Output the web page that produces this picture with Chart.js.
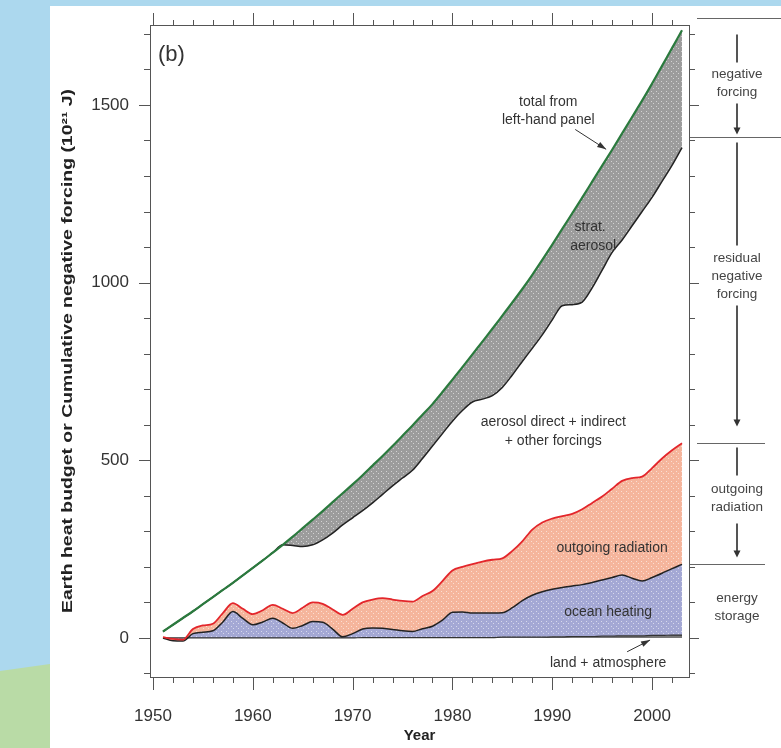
<!DOCTYPE html>
<html>
<head>
<meta charset="utf-8">
<script src="https://cdn.jsdelivr.net/npm/chart.js@4.4.1/dist/chart.umd.min.js"></script>
<style>
html, body { margin: 0; padding: 0; }
body { width: 781px; height: 748px; background: #acd8ee; position: relative; overflow: hidden; }
#grass { position: absolute; left: 0; top: 0; width: 781px; height: 748px; background: #b9dba6;
  clip-path: polygon(0 671px, 50px 664px, 50px 748px, 0 748px); }
#panel { position: absolute; left: 50px; top: 6px; right: 0; bottom: 0; background: #fff; }
#wrap { position: absolute; left: 0; top: 0; width: 781px; height: 748px; }
</style>
</head>
<body>
<div id="grass"></div>
<div id="panel"></div>
<div id="wrap"><canvas id="heat-chart" width="781" height="748"></canvas></div>
<script>
// years of the record
const years = [
  1951, 1952, 1953, 1954, 1955, 1956, 1957, 1958, 1959, 1960,
  1961, 1962, 1963, 1964, 1965, 1966, 1967, 1968, 1969, 1970,
  1971, 1972, 1973, 1974, 1975, 1976, 1977, 1978, 1979, 1980,
  1981, 1982, 1983, 1984, 1985, 1986, 1987, 1988, 1989, 1990,
  1991, 1992, 1993, 1994, 1995, 1996, 1997, 1998, 1999, 2000,
  2001, 2002, 2003
];

// total from left-hand panel (green line)
const totalForcing = [
  18, 37, 56, 75, 95, 115, 135, 155, 176, 197,
  218, 240, 262, 285, 309, 333, 357, 382, 407, 432,
  458, 485, 512, 540, 569, 598, 628, 658, 692, 727,
  762, 798, 834, 870, 907, 944, 982, 1022, 1064, 1107,
  1151, 1195, 1239, 1284, 1329, 1374, 1420, 1466, 1512, 1560,
  1610, 1660, 1710
];

// after strat. aerosol (black line under the grey band)
const residualForcing = [
  18, 37, 56, 75, 95, 115, 135, 155, 176, 197,
  218, 240, 262, 260, 257, 262, 276, 295, 318, 338,
  358, 380, 404, 428, 450, 472, 505, 540, 575, 610,
  640, 664, 672, 682, 705, 740, 778, 815, 853, 895,
  935, 938, 945, 985, 1035, 1085, 1120, 1160, 1200, 1240,
  1285, 1330, 1380
];

// top of outgoing radiation (red line)
const outgoingTop = [
  2, -3, -5, 25, 35, 40, 70, 98, 82, 67,
  78, 93, 82, 70, 85, 100, 96, 80, 65, 82,
  100, 108, 112, 108, 104, 102, 118, 132, 160, 190,
  200, 208, 215, 220, 224, 245, 272, 305, 325, 336,
  343, 349, 362, 380, 398, 420, 442, 450, 454, 478,
  505, 528, 548
];

// top of ocean heating
const oceanTop = [
  0, -8, -9, 12, 16, 20, 45, 74, 55, 37,
  45, 55, 42, 27, 35, 46, 44, 25, 3, 12,
  25, 28, 27, 24, 20, 18, 26, 33, 50, 72,
  73, 70, 70, 70, 71, 85, 105, 120, 130, 137,
  142, 146, 150, 156, 163, 170, 177, 168, 160, 170,
  182, 195, 207
];

// land + atmosphere
const landTop = [
  0, 0, 0, 0, 0, 0, 0, 0, 0, 0,
  0, 0, 0, 0, 0, 0, 0, 0, 0, 0,
  1, 1, 1, 1, 1, 1, 1, 1, 1, 1,
  1, 1, 1, 1, 2, 2, 2, 2, 2, 3,
  3, 4, 4, 4, 5, 5, 6, 6, 6, 7,
  7, 8, 8
];

const yearTicks = [1950, 1960, 1970, 1980, 1990, 2000];
const valueTicks = [0, 500, 1000, 1500];
const yTitle = 'Earth heat budget or Cumulative negative forcing (10²¹ J)';

// boundaries of the right-hand brackets (10^21 J)
const bracketLevels = [1745, 1410, 548, 207];

// text notes inside the plot, placed in data units
const notes = [
  { text: '(b)', x: 1950.5, y: 1640, size: 22, align: 'left' },
  { text: 'total from', x: 1989.6, y: 1507 },
  { text: 'left-hand panel', x: 1989.6, y: 1456 },
  { text: 'strat.', x: 1993.8, y: 1155 },
  { text: 'aerosol', x: 1994.1, y: 1104 },
  { text: 'aerosol direct + indirect', x: 1990.1, y: 606 },
  { text: '+ other forcings', x: 1990.1, y: 555 },
  { text: 'outgoing radiation', x: 1996.0, y: 254 },
  { text: 'ocean heating', x: 1995.6, y: 73 },
  { text: 'land + atmosphere', x: 1995.6, y: -70 }
];
const noteArrows = [
  { from: [1992.3, 1431], to: [1995.4, 1375] },
  { from: [1997.5, -39], to: [1999.8, -6] }
];

const FONT = '"Liberation Sans", Arial, Helvetica, sans-serif';

function stipple(base) {
  const c = document.createElement('canvas');
  c.width = 5; c.height = 5;
  const g = c.getContext('2d');
  g.fillStyle = base;
  g.fillRect(0, 0, 5, 5);
  g.fillStyle = 'rgba(255,255,255,0.55)';
  g.fillRect(1, 1, 1, 1);
  g.fillRect(3, 3, 1, 1);
  return g.createPattern(c, 'repeat');
}

const pts = arr => years.map((yr, i) => ({ x: yr, y: arr[i] }));

function arrowHead(ctx, x1, y1, x2, y2, len, half) {
  const ang = Math.atan2(y2 - y1, x2 - x1);
  ctx.beginPath();
  ctx.moveTo(x2, y2);
  ctx.lineTo(x2 - len * Math.cos(ang) + half * Math.sin(ang), y2 - len * Math.sin(ang) - half * Math.cos(ang));
  ctx.lineTo(x2 - len * Math.cos(ang) - half * Math.sin(ang), y2 - len * Math.sin(ang) + half * Math.cos(ang));
  ctx.closePath();
  ctx.fill();
}

function segment(ctx, x1, y1, x2, y2) {
  ctx.beginPath();
  ctx.moveTo(x1, y1);
  ctx.lineTo(x2, y2);
  ctx.stroke();
}

// frame, ticks on all four sides, notes and the right-hand brackets
const frameAndNotes = {
  id: 'frameAndNotes',
  afterDraw(chart) {
    const { ctx, chartArea: a, scales: { x, y } } = chart;
    ctx.save();
    ctx.strokeStyle = '#555';
    ctx.lineWidth = 1;
    ctx.strokeRect(a.left + 0.5, a.top + 0.5, a.right - a.left, a.bottom - a.top);

    for (let yr = 1950; yr <= 2003; yr += 2) {
      const px = Math.round(x.getPixelForValue(yr)) + 0.5;
      const major = yr % 10 === 0;
      segment(ctx, px, a.bottom, px, a.bottom + (major ? 13 : 6));
      segment(ctx, px, a.top, px, a.top - (major ? 12 : 5));
    }
    for (let v = -100; v <= 1700; v += 100) {
      const py = Math.round(y.getPixelForValue(v)) + 0.5;
      const major = v % 500 === 0;
      segment(ctx, a.left, py, a.left - (major ? 11 : 6), py);
      segment(ctx, a.right, py, a.right + (major ? 10 : 6), py);
    }

    // y axis title, stretched along its length like the original
    ctx.save();
    ctx.translate(68, (a.top + a.bottom) / 2);
    ctx.rotate(-Math.PI / 2);
    ctx.font = 'bold 15px ' + FONT;
    ctx.scale(524 / ctx.measureText(yTitle).width, 1);
    ctx.fillStyle = '#222';
    ctx.textAlign = 'center';
    ctx.textBaseline = 'middle';
    ctx.fillText(yTitle, 0, 0);
    ctx.restore();

    // notes in the plot
    ctx.fillStyle = '#333';
    ctx.textBaseline = 'middle';
    notes.forEach(n => {
      ctx.font = (n.size || 14) + 'px ' + FONT;
      ctx.textAlign = n.align || 'center';
      ctx.fillText(n.text, x.getPixelForValue(n.x), y.getPixelForValue(n.y));
    });
    ctx.strokeStyle = '#333';
    noteArrows.forEach(n => {
      const x1 = x.getPixelForValue(n.from[0]), y1 = y.getPixelForValue(n.from[1]);
      const x2 = x.getPixelForValue(n.to[0]), y2 = y.getPixelForValue(n.to[1]);
      segment(ctx, x1, y1, x2, y2);
      arrowHead(ctx, x1, y1, x2, y2, 9, 3);
    });

    // right-hand brackets
    const [yTop, yRes, yOut, yStore] = bracketLevels.map(v => Math.round(y.getPixelForValue(v)) + 0.5);
    const cx = 737;
    ctx.strokeStyle = '#666';
    segment(ctx, 697, yTop, 781, yTop);
    segment(ctx, 690, yRes, 781, yRes);
    segment(ctx, 697, yOut, 765, yOut);
    segment(ctx, 690, yStore, 765, yStore);

    ctx.lineWidth = 2;
    ctx.strokeStyle = '#555';
    ctx.fillStyle = '#333';
    segment(ctx, cx, yTop + 16, cx, yTop + 44);
    segment(ctx, cx, yRes - 34, cx, yRes - 6);
    arrowHead(ctx, cx, yRes - 34, cx, yRes - 3, 7, 3.5);
    segment(ctx, cx, yRes + 5, cx, yRes + 108);
    segment(ctx, cx, yRes + 168, cx, yOut - 20);
    arrowHead(ctx, cx, yRes + 168, cx, yOut - 17, 7, 3.5);
    segment(ctx, cx, yOut + 4, cx, yOut + 32);
    segment(ctx, cx, yOut + 80, cx, yStore - 10);
    arrowHead(ctx, cx, yOut + 80, cx, yStore - 7, 7, 3.5);

    ctx.font = '13.5px ' + FONT;
    ctx.fillStyle = '#444';
    ctx.textAlign = 'center';
    const block = (lines, cy) => lines.forEach((t, i) =>
      ctx.fillText(t, cx, cy + (i - (lines.length - 1) / 2) * 18));
    block(['negative', 'forcing'], yTop + 65);
    block(['residual', 'negative', 'forcing'], yRes + 139);
    block(['outgoing', 'radiation'], yOut + 55);
    block(['energy', 'storage'], yStore + 43);
    ctx.restore();
  }
};

const ctx = document.getElementById('heat-chart');

const heatChart = new Chart(ctx, {
  type: 'line',
  data: {
    datasets: [
      {
        label: 'total from left-hand panel',
        data: pts(totalForcing),
        borderColor: '#2b7a3e',
        borderWidth: 2.2,
        fill: false
      },
      {
        label: 'strat. aerosol',
        data: pts(residualForcing),
        borderColor: '#222',
        borderWidth: 1.5,
        backgroundColor: stipple('#9c9c9c'),
        fill: '-1'
      },
      {
        label: 'outgoing radiation',
        data: pts(outgoingTop),
        borderColor: '#e3262b',
        borderWidth: 1.8,
        backgroundColor: stipple('#f5b59c'),
        fill: '+1'
      },
      {
        label: 'ocean heating',
        data: pts(oceanTop),
        borderColor: '#222',
        borderWidth: 1.5,
        backgroundColor: stipple('#a4a8d4'),
        fill: '+1'
      },
      {
        label: 'land + atmosphere',
        data: pts(landTop),
        borderColor: '#333',
        borderWidth: 1.2,
        backgroundColor: '#777',
        fill: 'origin'
      }
    ]
  },
  options: {
    responsive: false,
    animation: false,
    layout: { padding: { left: 50, top: 25, right: 92, bottom: 0 } },
    elements: {
      point: { radius: 0 },
      line: { cubicInterpolationMode: 'monotone' }
    },
    plugins: {
      legend: { display: false },
      tooltip: { enabled: false },
      filler: { drawTime: 'beforeDatasetsDraw' }
    },
    scales: {
      x: {
        type: 'linear',
        min: 1949.7,
        max: 2003.7,
        grid: { display: false, drawTicks: false },
        border: { display: false },
        afterBuildTicks: s => { s.ticks = yearTicks.map(v => ({ value: v })); },
        afterFit: s => { s.height = 71; s.paddingLeft = 0; s.paddingRight = 0; },
        ticks: {
          padding: 29,
          color: '#333',
          maxRotation: 0,
          autoSkip: false,
          font: { family: FONT, size: 17 },
          callback: v => String(v)
        },
        title: {
          display: true,
          text: 'Year',
          color: '#222',
          font: { family: FONT, size: 15, weight: 'bold' },
          padding: { top: 0, bottom: 3 }
        }
      },
      y: {
        min: -110,
        max: 1725,
        grid: { display: false, drawTicks: false },
        border: { display: false },
        afterBuildTicks: s => { s.ticks = valueTicks.map(v => ({ value: v })); },
        afterFit: s => { s.width = 100; s.paddingTop = 0; s.paddingBottom = 0; },
        ticks: {
          padding: 21,
          color: '#333',
          autoSkip: false,
          font: { family: FONT, size: 17 },
          callback: v => String(v)
        },
        title: { display: false }
      }
    }
  },
  plugins: [frameAndNotes]
});
</script>
</body>
</html>
